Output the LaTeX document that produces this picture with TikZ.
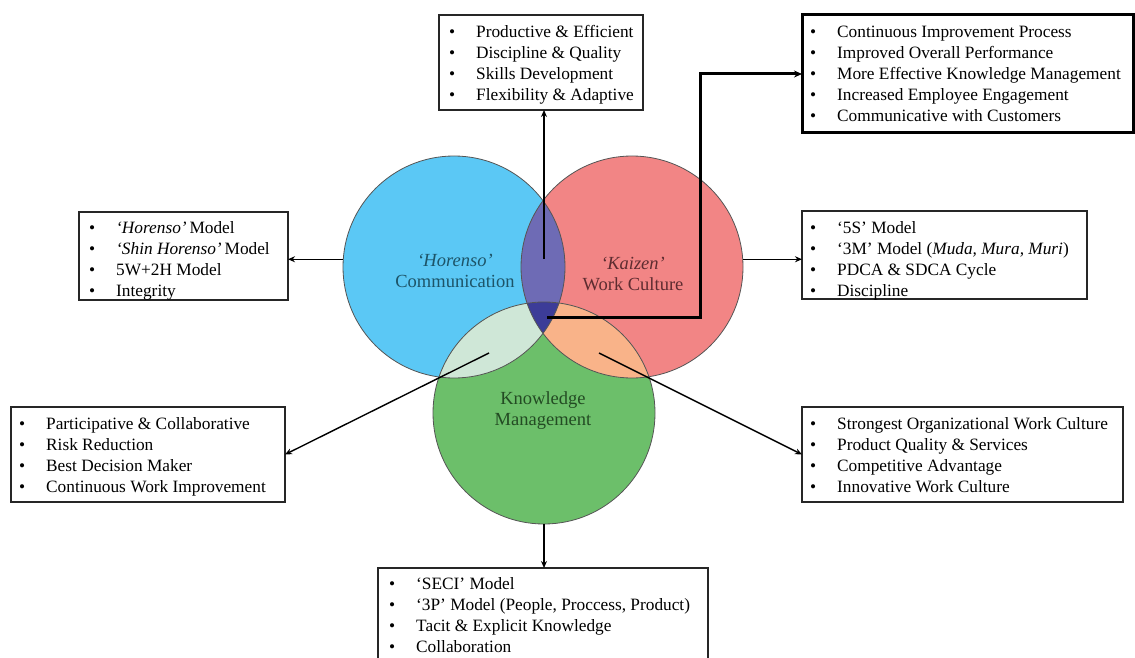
\documentclass[tikz,border=0pt]{standalone}
\usepackage{fontspec}
\setmainfont{Liberation Serif}
\usetikzlibrary{arrows.meta}
\definecolor{cblue}{HTML}{5BC8F5}
\definecolor{cred}{HTML}{F28585}
\definecolor{cgreen}{HTML}{6CBF6A}
\definecolor{cbr}{HTML}{6E6BB5}
\definecolor{cbg}{HTML}{CFE7D7}
\definecolor{crg}{HTML}{F9B389}
\definecolor{cbrg}{HTML}{3C3C98}
\definecolor{edgec}{HTML}{555555}
\definecolor{tblue}{HTML}{1D5468}
\definecolor{tred}{HTML}{5E2C30}
\definecolor{tgreen}{HTML}{234B23}
\newcommand{\blist}[1]{\begin{tabular}{@{}p{27pt}@{}l@{}}#1\end{tabular}}
\begin{document}
\begin{tikzpicture}[x=1pt,y=-1pt,
  vcirc/.style={circle, minimum size=222pt, inner sep=0pt, outer sep=0pt},
  boxn/.style={draw=black!85, line width=1.1pt, anchor=north west, inner sep=0pt, outer sep=0pt},
  thickbox/.style={boxn, draw=black, line width=3pt},
  listn/.style={anchor=north west, inner sep=0pt, font=\fontsize{17.3}{21}\selectfont},
  ctext/.style={align=center, inner sep=0pt, font=\fontsize{18.5}{21}\selectfont},
  conn/.style={line width=1.4pt, -{Stealth[length=7pt,width=6pt]}},
  thickconn/.style={line width=3pt, -{Stealth[length=8pt,width=7pt]}}]
\clip (0,0) rectangle (1135,658);
\fill[white] (0,0) rectangle (1135,658);

% circles
\node[vcirc] (B) at (454,267) {};
\node[vcirc] (R) at (632,267) {};
\node[vcirc] (G) at (544,413) {};
\fill[cblue] (B.center) circle[radius=111];
\fill[cred] (R.center) circle[radius=111];
\fill[cgreen] (G.center) circle[radius=111];
\begin{scope}
  \clip (R.center) circle[radius=111];
  \fill[crg] (G.center) circle[radius=111];
\end{scope}
\begin{scope}
  \clip (B.center) circle[radius=111];
  \fill[cbr] (R.center) circle[radius=111];
  \fill[cbg] (G.center) circle[radius=111];
  \clip (R.center) circle[radius=111];
  \fill[cbrg] (G.center) circle[radius=111];
\end{scope}
\draw[edgec, line width=0.8pt] (B.center) circle[radius=111];
\draw[edgec, line width=0.8pt] (R.center) circle[radius=111];
\draw[edgec, line width=0.8pt] (G.center) circle[radius=111];

% circle labels
\node[ctext, text=tblue] (lb) at (455,271) {\textit{`Horenso'}\\Communication};
\node[ctext, text=tred] (lr) at (633,274) {\textit{`Kaizen'}\\Work Culture};
\node[ctext, text=tgreen] (lg) at (543,411) {Knowledge\\Management};

% boxes
\node[boxn, minimum width=204pt, minimum height=95pt] (b1) at (439,15) {};
\node[listn] (t1) at (449,23) {\blist{\textbullet & Productive \& Efficient\\ \textbullet & Discipline \& Quality\\ \textbullet & Skills Development\\ \textbullet & Flexibility \& Adaptive}};

\node[thickbox, minimum width=331pt, minimum height=118pt] (b2) at (802,15) {};
\node[listn] (t2) at (810,23) {\blist{\textbullet & Continuous Improvement Process\\ \textbullet & Improved Overall Performance\\ \textbullet & More Effective Knowledge Management\\ \textbullet & Increased Employee Engagement\\ \textbullet & Communicative with Customers}};

\node[boxn, minimum width=209pt, minimum height=88pt] (b3) at (79,212) {};
\node[listn] (t3) at (89,219) {\blist{\textbullet & \textit{`Horenso'}\,Model\\ \textbullet & \textit{`Shin Horenso'}\,Model\\ \textbullet & 5W+2H Model\\ \textbullet & Integrity}};

\node[boxn, minimum width=285pt, minimum height=88pt] (b4) at (802,211) {};
\node[listn] (t4) at (810,219) {\blist{\textbullet & `5S' Model\\ \textbullet & `3M' Model (\textit{Muda, Mura, Muri})\\ \textbullet & PDCA \& SDCA Cycle\\ \textbullet & Discipline}};

\node[boxn, minimum width=274pt, minimum height=95pt] (b5) at (11,407) {};
\node[listn] (t5) at (19,415) {\blist{\textbullet & Participative \& Collaborative\\ \textbullet & Risk Reduction\\ \textbullet & Best Decision Maker\\ \textbullet & Continuous Work Improvement}};

\node[boxn, minimum width=321pt, minimum height=95pt] (b6) at (802,407) {};
\node[listn] (t6) at (810,415) {\blist{\textbullet & Strongest Organizational Work Culture\\ \textbullet & Product Quality \& Services\\ \textbullet & Competitive Advantage\\ \textbullet & Innovative Work Culture}};

\node[boxn, minimum width=330pt, minimum height=110pt] (b7) at (378,568) {};
\node[listn] (t7) at (389,575) {\blist{\textbullet & `SECI' Model\\ \textbullet & `3P' Model (People, Proccess, Product)\\ \textbullet & Tacit \& Explicit Knowledge\\ \textbullet & Collaboration}};

% connectors
\coordinate (pBR) at (544,259);
\coordinate (pBG) at (489,353);
\coordinate (pRG) at (599,353);
\coordinate (pC) at (547,317);
\coordinate (pK) at (700,317);
\coordinate (pT) at (700,74);
\draw[conn] (pBR) -- (pBR |- b1.south);
\draw[conn] (B.176) -- (B.176 -| b3.east);
\draw[conn] (R.4) -- (R.4 -| b4.west);
\draw[conn] (G.south) -- (G.south |- b7.north);
\draw[conn] (pBG) -- (b5.east);
\draw[conn] (pRG) -- (b6.west);
\draw[thickconn] (pC) -- (pK) -- (pT) -- (pT -| b2.west);
\end{tikzpicture}
\end{document}
